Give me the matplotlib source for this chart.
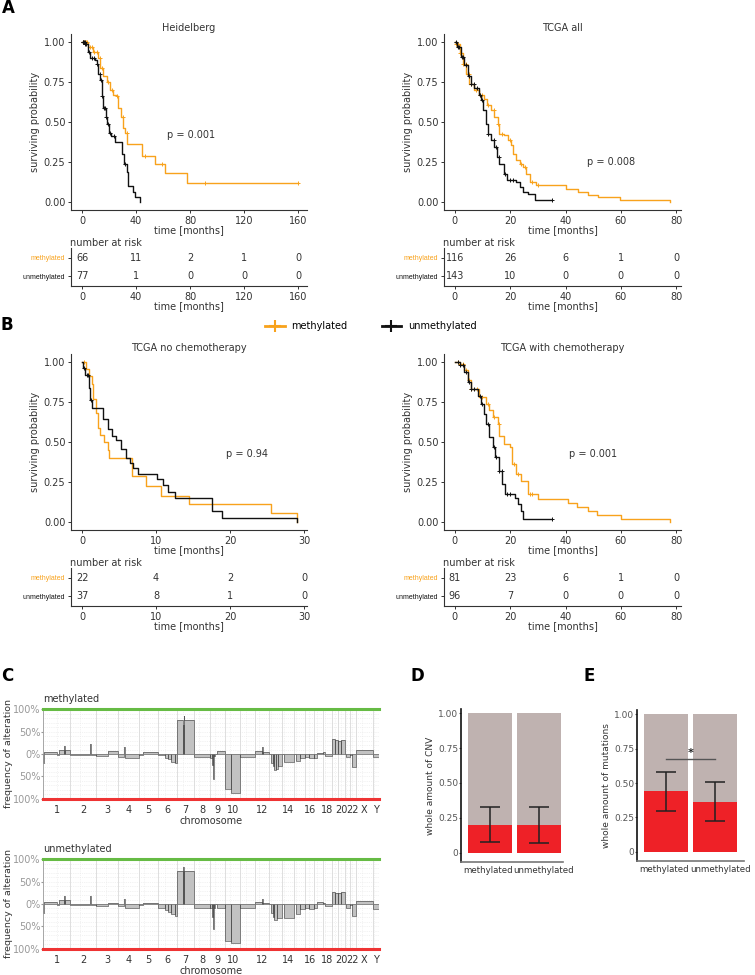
import numpy as np
import matplotlib.pyplot as plt
import matplotlib.transforms as mtransforms
from matplotlib.lines import Line2D

W, H = 755, 975
ORANGE = '#f8a21c'
BLACK = '#111111'
TXT = '#333333'

# ---------------- survival data (step times / survival after step) ----------------
hd_m_t = [0, 4.7, 8.4, 12.1, 13.4, 15.8, 18.3, 20.8, 23.2, 25.7, 27.0, 28.7, 30.7, 31.9, 33.1, 44.3, 54.2, 61.6, 78.1, 160]
hd_m_s = [1.0, 0.97, 0.94, 0.90, 0.84, 0.79, 0.75, 0.70, 0.67, 0.66, 0.59, 0.53, 0.46, 0.43, 0.365, 0.29, 0.24, 0.18, 0.12, 0.12]
hd_m_c = [1, 1.5, 2, 3, 4, 6, 7, 9, 11, 13, 15, 19, 22, 26, 30, 33, 46.5, 59, 91, 160]
hd_u_t = [0, 2.2, 4.7, 5.9, 9.6, 10.9, 12.1, 13.4, 14.6, 15.8, 17.8, 18.8, 20.3, 21.3, 24.5, 29.4, 31.2, 33.1, 34.4, 37.6, 39.3, 43.0]
hd_u_s = [1.0, 0.99, 0.94, 0.90, 0.885, 0.865, 0.80, 0.76, 0.66, 0.59, 0.53, 0.49, 0.43, 0.41, 0.375, 0.30, 0.24, 0.19, 0.10, 0.0625, 0.03, 0.0]
hd_u_c = [0.5, 1, 1.5, 2, 2.5, 3, 5, 7, 9, 11, 13, 14, 15, 16, 17, 18, 19, 21, 23.5, 32]

all_m_t = [0, 0.5, 1.7, 2.9, 4.1, 5.3, 7.1, 8.9, 10.7, 11.6, 13.1, 14.3, 15.5, 16.1, 17.6, 19.2, 20.4, 21.0, 22.2,
           23.4, 24.6, 25.8, 27.0, 29.4, 40.2, 44.5, 48.1, 51.7, 59.5, 77.6]
all_m_s = [1.0, 0.99, 0.93, 0.86, 0.80, 0.74, 0.70, 0.667, 0.646, 0.604, 0.573, 0.53, 0.49, 0.427, 0.417, 0.385, 0.354,
           0.302, 0.26, 0.24, 0.22, 0.177, 0.125, 0.104, 0.083, 0.0625, 0.046, 0.031, 0.015, 0.0]
all_m_c = [0.5, 1, 2, 3, 4, 5, 6, 7.5, 9, 10, 12, 14, 15.5, 17, 20, 24, 25.5, 28, 30]
all_u_t = [0, 0.7, 2.3, 3.5, 4.7, 5.9, 7.1, 8.9, 9.5, 10.1, 11.1, 11.9, 13.1, 14.3, 15.2, 16.1, 17.6, 18.9, 22.2, 23.4,
           24.6, 26.4, 28.8, 34.8]
all_u_s = [1.0, 0.97, 0.906, 0.854, 0.79, 0.74, 0.71, 0.667, 0.635, 0.573, 0.49, 0.427, 0.385, 0.344, 0.281, 0.24,
           0.177, 0.135, 0.125, 0.094, 0.0625, 0.052, 0.015, 0.015]
all_u_c = [0.5, 1, 1.5, 2.5, 3, 4, 5, 6, 7, 8, 9, 10, 12, 14, 15, 16, 18, 20, 21, 35]

noc_m_t = [0, 0.5, 1.0, 1.3, 1.5, 1.9, 2.2, 2.4, 2.9, 3.5, 3.7, 6.8, 8.7, 10.6, 14.5, 25.5, 29.0]
noc_m_s = [1.0, 0.955, 0.91, 0.86, 0.77, 0.68, 0.59, 0.545, 0.50, 0.45, 0.40, 0.29, 0.225, 0.165, 0.11, 0.055, 0.0]
noc_m_c = [0.2]
noc_u_t = [0, 0.14, 0.36, 0.95, 1.1, 1.3, 2.8, 3.5, 4.0, 4.6, 5.3, 5.9, 6.45, 6.9, 7.6, 10.1, 11.0, 11.6, 12.5,
           17.5, 18.9, 29.0]
noc_u_s = [1.0, 0.96, 0.92, 0.84, 0.76, 0.71, 0.644, 0.58, 0.54, 0.51, 0.456, 0.40, 0.37, 0.34, 0.30, 0.27, 0.23,
           0.19, 0.15, 0.07, 0.027, 0.0]
noc_u_c = [0.2, 0.6, 0.8, 1.2]

ch_m_t = [0, 1.7, 3.5, 4.7, 5.9, 8.9, 11.3, 12.5, 13.7, 15.5, 16.1, 17.9, 19.8, 20.7, 22.2, 24.0, 26.4, 30.0, 40.8,
          44.2, 48.0, 51.4, 59.9, 77.6]
ch_m_s = [1.0, 0.99, 0.948, 0.885, 0.833, 0.78, 0.74, 0.70, 0.655, 0.613, 0.54, 0.487, 0.466, 0.36, 0.30, 0.257,
          0.173, 0.142, 0.12, 0.094, 0.069, 0.042, 0.017, 0.0]
ch_m_c = [1, 2, 3, 4, 5, 6, 8, 10, 12, 14, 16, 21.5, 23, 27, 28]
ch_u_t = [0, 1.7, 3.5, 4.7, 5.9, 8.3, 9.5, 10.4, 11.3, 12.3, 13.7, 14.7, 15.9, 17.1, 18.3, 21.6, 22.8, 24.0, 24.6, 34.8]
ch_u_s = [1.0, 0.98, 0.937, 0.874, 0.833, 0.79, 0.74, 0.676, 0.613, 0.53, 0.466, 0.404, 0.32, 0.236, 0.174, 0.152,
          0.11, 0.069, 0.017, 0.017]
ch_u_c = [1, 2, 3, 4, 5, 6, 7, 9, 10, 12, 14, 15, 16, 17, 19, 20, 35]

# numbers at risk
hd_risk_t, hd_risk_m, hd_risk_u = [0, 40, 80, 120, 160], [66, 11, 2, 1, 0], [77, 1, 0, 0, 0]
all_risk_t, all_risk_m, all_risk_u = [0, 20, 40, 60, 80], [116, 26, 6, 1, 0], [143, 10, 0, 0, 0]
noc_risk_t, noc_risk_m, noc_risk_u = [0, 10, 20, 30], [22, 4, 2, 0], [37, 8, 1, 0]
ch_risk_t, ch_risk_m, ch_risk_u = [0, 20, 40, 60, 80], [81, 23, 6, 1, 0], [96, 7, 0, 0, 0]

# ---------------- CNV data ----------------
chroms = [str(i) for i in range(1, 23)] + ['X', 'Y']
chrom_len = [249, 243, 198, 191, 181, 171, 159, 146, 141, 136, 135, 134, 115, 107, 103, 90, 81, 78, 59, 63, 48, 51, 155, 59]
centromere = [125, 93, 91, 50, 48, 60, 60, 45, 49, 40, 53, 35, 18, 17, 19, 36, 24, 18, 27, 28, 13, 15, 60, 12]
chrom_labels = ['1', '2', '3', '4', '5', '6', '7', '8', '9', '10', '12', '14', '16', '18', '20', '22', 'X', 'Y']

meth_cnv = [
    ('1', 0, 5, -20), ('1', 5, 125, 5), ('1', 125, 147, -3), ('1', 147, 195, 10), ('1', 195, 200, 18), ('1', 200, 249, 10),
    ('2', 0, 185, -2), ('2', 185, 190, 22), ('2', 190, 243, -3),
    ('3', 0, 105, -4), ('3', 105, 198, 6),
    ('4', 0, 60, -6), ('4', 60, 64, 15), ('4', 64, 191, -9),
    ('5', 0, 40, -2), ('5', 40, 181, 5),
    ('6', 0, 60, -2), ('6', 60, 90, -8), ('6', 90, 120, -12), ('6', 120, 150, -17), ('6', 150, 171, -21),
    ('7', 3, 60, 77), ('7', 60, 63, 66), ('7', 63, 66, 86), ('7', 66, 159, 77),
    ('8', 0, 146, -6),
    ('9', 0, 18, -8), ('9', 18, 26, -25), ('9', 26, 32, -55), ('9', 32, 40, -20), ('9', 40, 49, -5), ('9', 65, 141, 6),
    ('10', 0, 55, -79), ('10', 55, 136, -87),
    ('11', 0, 135, -7),
    ('12', 0, 70, 6), ('12', 70, 74, 16), ('12', 74, 134, 4),
    ('13', 18, 30, -20), ('13', 30, 45, -28), ('13', 45, 60, -37), ('13', 60, 80, -33), ('13', 80, 115, -27),
    ('14', 20, 107, -18),
    ('15', 20, 60, -15), ('15', 60, 103, -10),
    ('16', 0, 36, -6), ('16', 36, 90, -9),
    ('17', 0, 24, -10), ('17', 24, 81, 3),
    ('18', 0, 18, 4), ('18', 18, 78, -4),
    ('19', 0, 27, 34), ('19', 27, 59, 31),
    ('20', 0, 28, 30), ('20', 28, 63, 31),
    ('21', 13, 48, -6),
    ('22', 0, 15, -3), ('22', 15, 51, -30),
    ('X', 0, 155, 8),
    ('Y', 0, 59, -6),
]
unmeth_cnv = [
    ('1', 0, 5, -20), ('1', 5, 125, 4), ('1', 125, 147, -2), ('1', 147, 195, 8), ('1', 195, 200, 18), ('1', 200, 249, 8),
    ('2', 0, 185, -2), ('2', 185, 190, 18), ('2', 190, 243, -3),
    ('3', 0, 105, -4), ('3', 105, 198, 3),
    ('4', 0, 60, -5), ('4', 60, 64, 12), ('4', 64, 191, -8),
    ('5', 0, 40, -2), ('5', 40, 181, 3),
    ('6', 0, 60, -10), ('6', 60, 90, -14), ('6', 90, 120, -18), ('6', 120, 150, -22), ('6', 150, 171, -26),
    ('7', 3, 60, 75), ('7', 60, 64, 83), ('7', 64, 159, 74),
    ('8', 0, 146, -8),
    ('9', 0, 18, -10), ('9', 18, 26, -30), ('9', 26, 32, -55), ('9', 32, 40, -20), ('9', 40, 49, -8), ('9', 65, 141, -10),
    ('10', 0, 55, -83), ('10', 55, 136, -88),
    ('11', 0, 135, -9),
    ('12', 0, 70, 5), ('12', 70, 74, 12), ('12', 74, 134, 3),
    ('13', 18, 30, -20), ('13', 30, 45, -30), ('13', 45, 70, -36), ('13', 70, 115, -32),
    ('14', 20, 107, -32),
    ('15', 20, 60, -22), ('15', 60, 103, -12),
    ('16', 0, 36, -8), ('16', 36, 90, -11),
    ('17', 0, 24, -8), ('17', 24, 81, 4),
    ('18', 0, 18, 3), ('18', 18, 78, -5),
    ('19', 0, 27, 26), ('19', 27, 59, 24),
    ('20', 0, 28, 25), ('20', 28, 63, 26),
    ('21', 13, 48, -10),
    ('22', 0, 15, -3), ('22', 15, 51, -28),
    ('X', 0, 155, 6),
    ('Y', 0, 59, -12),
]

# ---------------- bar data (D, E) ----------------
groups = ['methylated', 'unmethylated']
cnv_frac = [0.20, 0.20]
cnv_lo, cnv_hi = [0.074, 0.067], [0.325, 0.33]
mut_frac = [0.44, 0.363]
mut_lo, mut_hi = [0.30, 0.225], [0.58, 0.506]

fig = plt.figure(figsize=(W / 100, H / 100), dpi=100)


def px_axes(x0, y0, x1, y1):
    return fig.add_axes([x0 / W, 1 - y1 / H, (x1 - x0) / W, (y1 - y0) / H])


def style(ax):
    for s in ['top', 'right']:
        ax.spines[s].set_visible(False)
    for s in ['left', 'bottom']:
        ax.spines[s].set_color(TXT)
        ax.spines[s].set_linewidth(0.8)
    ax.tick_params(labelsize=7, length=2.5, width=0.7, pad=1.5, colors=TXT)


def km(box, title, curves, xlim, xticks, ptxt, ppos):
    ax = px_axes(*box)
    style(ax)
    for t, s, c, col in curves:
        t, s, c = np.array(t), np.array(s), np.array(c)
        ax.step(t, s, where='post', color=col, lw=1.0)
        cy = s[np.searchsorted(t, c, side='right') - 1]
        ax.plot(c, cy, '+', color=col, ms=3.5, mew=0.7)
    ax.set_xlim(*xlim)
    ax.set_ylim(-0.05, 1.05)
    ax.set_xticks(xticks)
    ax.set_yticks([0, 0.25, 0.5, 0.75, 1.0])
    ax.set_yticklabels(['0.00', '0.25', '0.50', '0.75', '1.00'])
    ax.set_title(title, fontsize=7, pad=2, color=TXT)
    ax.set_xlabel('time [months]', fontsize=7, labelpad=0, color=TXT)
    ax.set_ylabel('surviving probability', fontsize=7, labelpad=3, color=TXT)
    ax.text(ppos[0], ppos[1], ptxt, fontsize=7, color=TXT, ha='center', va='center')
    return ax


def risk(box, xlim, times, nm, nu):
    ax = px_axes(*box)
    style(ax)
    ax.set_xlim(*xlim)
    ax.set_ylim(1.55, -0.55)
    for t, a, b in zip(times, nm, nu):
        ax.text(t, 0, str(a), ha='center', va='center', fontsize=7, color=TXT)
        ax.text(t, 1, str(b), ha='center', va='center', fontsize=7, color=TXT)
    ax.set_xticks(times)
    ax.set_yticks([0, 1])
    ax.set_yticklabels(['methylated', 'unmethylated'], fontsize=5, family='Liberation Sans')
    ax.get_yticklabels()[0].set_color(ORANGE)
    ax.get_yticklabels()[1].set_color(BLACK)
    ax.set_title('number at risk', loc='left', fontsize=7, pad=1, color=TXT, x=-0.005)
    ax.set_xlabel('time [months]', fontsize=7, labelpad=0, color=TXT)


# Panel A
km((71, 34, 307, 210), 'Heidelberg',
   [(hd_m_t, hd_m_s, hd_m_c, ORANGE), (hd_u_t, hd_u_s, hd_u_c, BLACK)],
   (-8.2, 166.7), [0, 40, 80, 120, 160], 'p = 0.001', (81, 0.417))
risk((71, 248, 307, 286), (-8.2, 166.7), hd_risk_t, hd_risk_m, hd_risk_u)
km((444, 34, 681, 210), 'TCGA all',
   [(all_m_t, all_m_s, all_m_c, ORANGE), (all_u_t, all_u_s, all_u_c, BLACK)],
   (-3.9, 81.7), [0, 20, 40, 60, 80], 'p = 0.008', (56.5, 0.25))
risk((444, 248, 681, 286), (-3.9, 81.7), all_risk_t, all_risk_m, all_risk_u)

# Panel B
km((71, 354, 307, 530), 'TCGA no chemotherapy',
   [(noc_m_t, noc_m_s, noc_m_c, ORANGE), (noc_u_t, noc_u_s, noc_u_c, BLACK)],
   (-1.5, 30.4), [0, 10, 20, 30], 'p = 0.94', (22.3, 0.425))
risk((71, 568, 307, 606), (-1.5, 30.4), noc_risk_t, noc_risk_m, noc_risk_u)
km((444, 354, 681, 530), 'TCGA with chemotherapy',
   [(ch_m_t, ch_m_s, ch_m_c, ORANGE), (ch_u_t, ch_u_s, ch_u_c, BLACK)],
   (-3.9, 81.7), [0, 20, 40, 60, 80], 'p = 0.001', (49.9, 0.425))
risk((444, 568, 681, 606), (-3.9, 81.7), ch_risk_t, ch_risk_m, ch_risk_u)

handles = [Line2D([], [], color=ORANGE, lw=2, marker='+', ms=8, mew=1.5),
           Line2D([], [], color=BLACK, lw=2, marker='+', ms=8, mew=1.5)]
fig.legend(handles, groups, loc='center', bbox_to_anchor=(371 / W, 1 - 326 / H), ncol=2, frameon=False,
           fontsize=7, handlelength=2.0, handletextpad=0.7, columnspacing=3.5)

# Panel C
offsets = np.concatenate([[0], np.cumsum(chrom_len)])
chrom_off = dict(zip(chroms, offsets[:-1]))
centers = offsets[:-1] + np.array(chrom_len) / 2
label_pos = [centers[chroms.index(c)] for c in chrom_labels]


def cnv(box, title, segs):
    ax = px_axes(*box)
    for s in ['top', 'right', 'bottom']:
        ax.spines[s].set_visible(False)
    ax.spines['left'].set_color('#999999')
    ax.spines['left'].set_linewidth(0.6)
    ax.set_xlim(0, offsets[-1])
    ax.set_ylim(-101, 101)
    for y in range(-90, 100, 10):
        ax.axhline(y, color='#e6e6e6', lw=0.5, ls=':', zorder=0)
    for b in offsets[1:-1]:
        ax.axvline(b, color='#d9d9d9', lw=0.6, zorder=0)
    for o, c in zip(offsets[:-1], centromere):
        ax.axvline(o + c, color='#e8e8e8', lw=0.5, ls=':', zorder=0)
    xs, ys = [], []
    for ch, a, b, v in segs:
        o = chrom_off[ch]
        xs += [o + a, o + a, o + b, o + b]
        ys += [0, v, v, 0]
    ax.fill(xs, ys, color='#c2c2c2', lw=0, zorder=1)
    ax.plot(xs, ys, color='#555555', lw=0.5, zorder=2)
    ax.axhline(0, color='#777777', lw=0.6, zorder=2)
    ax.axhline(100, color='#66bb44', lw=2.2, zorder=3, clip_on=False)
    ax.axhline(-100, color='#ee3333', lw=2.2, zorder=3, clip_on=False)
    ax.set_yticks([100, 50, 0, -50, -100])
    ax.set_yticklabels(['100%', '50%', '0%', '50%', '100%'])
    cols = ['#77c043', '#77c043', TXT, '#f04545', '#f04545']
    for lab, c in zip(ax.get_yticklabels(), cols):
        lab.set_color(c)
    ax.set_xticks(label_pos)
    ax.set_xticklabels(chrom_labels)
    ax.tick_params(axis='x', length=0, labelsize=7, colors=TXT, pad=4)
    ax.tick_params(axis='y', length=1.5, labelsize=7, colors='#999999', pad=0.5)
    ax.set_xlabel('chromosome', fontsize=7, color=TXT, labelpad=1)
    ax.set_ylabel('frequency of alteration', fontsize=6.8, color=TXT, labelpad=0)
    ax.set_title(title, loc='left', fontsize=7, color=TXT, pad=5)


cnv((43, 709, 379, 799), 'methylated', meth_cnv)
cnv((43, 859, 379, 949), 'unmethylated', unmeth_cnv)


# Panels D, E
def bars(box, xlim, frac, lo, hi, ylabel, sig=None):
    ax = px_axes(*box)
    for s in ['top', 'right']:
        ax.spines[s].set_visible(False)
    ax.spines['left'].set_color('#111111')
    ax.spines['left'].set_linewidth(1.2)
    ax.spines['bottom'].set_color('#777777')
    ax.spines['bottom'].set_linewidth(1.2)
    x = np.arange(2)
    frac, lo, hi = np.array(frac), np.array(lo), np.array(hi)
    ax.bar(x, np.ones(2), width=0.9, color='#bfb2b0')
    ax.bar(x, frac, width=0.9, color='#ee2127')
    ax.errorbar(x, lo, yerr=[np.zeros(2), hi - lo], fmt='none', ecolor='#222222', elinewidth=1.1,
                capsize=7, capthick=1.1)
    ax.set_xlim(*xlim)
    ax.set_ylim(-0.066, 1.03)
    ax.set_yticks([0, 0.25, 0.5, 0.75, 1.0])
    ax.set_yticklabels(['0', '0.25', '0.50', '0.75', '1.00'])
    ax.set_xticks(x)
    ax.set_xticklabels(groups)
    ax.tick_params(axis='y', labelsize=6.5, length=1.5, pad=0.5, colors='#555555')
    ax.tick_params(axis='x', labelsize=6.2, length=0, pad=3, colors=TXT)
    # nudge the two category labels apart so they do not touch
    for lab, dx in zip(ax.get_xticklabels(), [-2, 5]):
        lab.set_transform(lab.get_transform() + mtransforms.ScaledTranslation(dx / 100, 0, fig.dpi_scale_trans))
    ax.set_ylabel(ylabel, fontsize=6.5, color=TXT, labelpad=2)
    if sig is not None:
        ax.plot([0, 1], [sig, sig], color='#555555', lw=1)
        ax.text(0.5, sig + 0.005, '*', ha='center', va='bottom', fontsize=8, fontweight='bold', color='#222222')


bars((461, 709, 563, 862), (-0.595, 1.49), cnv_frac, cnv_lo, cnv_hi, 'whole amount of CNV')
bars((637, 710, 744, 861), (-0.6, 1.585), mut_frac, mut_lo, mut_hi, 'whole amount of mutations', sig=0.673)

# panel letters
for lab, (px, py) in {'A': (8, 8), 'B': (7, 325), 'C': (7, 676), 'D': (417, 676), 'E': (589, 676)}.items():
    fig.text(px / W, 1 - py / H, lab, fontsize=12, fontweight='bold', ha='center', va='center')

fig.savefig('out.png', dpi=100)
